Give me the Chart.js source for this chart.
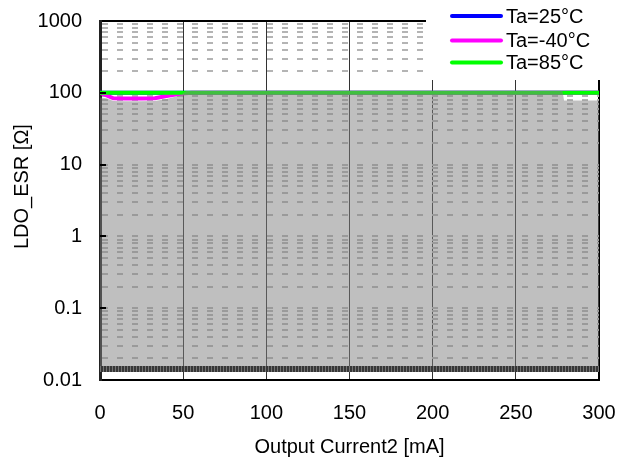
<!DOCTYPE html>
<html>
<head>
<meta charset="utf-8">
<script src="https://cdn.jsdelivr.net/npm/chart.js@4/dist/chart.umd.min.js"></script>
<style>
  html, body { margin: 0; padding: 0; background: #fff; }
  #wrap { width: 618px; height: 463px; position: relative; }
</style>
</head>
<body>
<div id="wrap"><canvas id="c" width="618" height="463"></canvas></div>
<script>
// ---------- data ----------
const seriesLabels = ['Ta=25°C', 'Ta=-40°C', 'Ta=85°C'];

const ta25X = [0, 50, 100, 150, 200, 250, 300];
const ta25Y = [100, 100, 100, 100, 100, 100, 100];

const taM40X = [0, 4, 8, 15, 25, 33, 40, 48, 55, 100, 150, 200, 250, 300];
const taM40Y = [100, 92, 84, 83, 83, 84, 90, 97, 100, 100, 100, 100, 100, 100];

const ta85X = [0, 50, 100, 150, 200, 250, 300];
const ta85Y = [100, 100, 100, 100, 100, 100, 100];

// shaded region (upper edge) and the dark base band
const shadeX = [0, 4, 8, 15, 25, 33, 40, 48, 52, 278, 279, 300];
const shadeY = [86, 84, 77, 76, 76, 77, 82, 92, 106, 106, 78, 78];
const bandX = [0, 300];
const bandY = [0.0142, 0.0142];
const bandLevel = 0.0142;

const xTickValues = [0, 50, 100, 150, 200, 250, 300];
const yDecades = [0.01, 0.1, 1, 10, 100, 1000];
const yTickLabels = ['0.01', '0.1', '1', '10', '100', '1000'];

// ---------- helpers ----------
const pts = (xs, ys) => xs.map((x, i) => ({ x: x, y: ys[i] }));
const FONT = '"Liberation Sans", Arial, sans-serif';

const legendPlugin = {
  id: 'customLegend',
  afterDraw(chart) {
    const ctx = chart.ctx;
    ctx.save();
    ctx.fillStyle = '#fff';
    ctx.fillRect(426, 0, 192, 80);
    const ys = [16, 40.5, 62.5];
    seriesLabels.forEach((lab, i) => {
      const d = chart.data.datasets.find(ds => ds.label === lab);
      ctx.strokeStyle = d.borderColor;
      ctx.lineWidth = 4;
      ctx.lineCap = 'round';
      ctx.beginPath();
      ctx.moveTo(452, ys[i]);
      ctx.lineTo(501, ys[i]);
      ctx.stroke();
      ctx.fillStyle = '#000';
      ctx.font = '20px ' + FONT;
      ctx.textBaseline = 'middle';
      ctx.textAlign = 'left';
      ctx.fillText(lab, 506, ys[i] + 1);
    });
    ctx.restore();
  }
};

const tickMarkPlugin = {
  id: 'innerTicks',
  afterDatasetsDraw(chart) {
    const ctx = chart.ctx;
    const ys = chart.scales.y;
    const left = chart.chartArea.left;
    ctx.save();
    ctx.strokeStyle = '#000';
    ctx.lineWidth = 2;
    yDecades.forEach(v => {
      const p = Math.round(ys.getPixelForValue(v));
      if (v === 1000 || v === 0.01) return;
      ctx.beginPath();
      ctx.moveTo(left, p);
      ctx.lineTo(left + 6, p);
      ctx.stroke();
    });
    ctx.restore();
  }
};

new Chart(document.getElementById('c'), {
  type: 'line',
  data: {
    datasets: [
      {
        label: 'bandHatch',
        data: pts(bandX, bandY),
        borderColor: 'rgb(115,115,115)',
        borderWidth: 6,
        borderDash: [1, 2],
        pointRadius: 0,
        fill: false
      },
      {
        label: 'band',
        data: pts(bandX, bandY),
        borderColor: 'rgb(55,55,55)',
        borderWidth: 6,
        pointRadius: 0,
        fill: false
      },
      {
        label: 'shade',
        data: pts(shadeX, shadeY),
        borderWidth: 0,
        borderColor: 'rgba(0,0,0,0)',
        backgroundColor: 'rgba(128,128,128,0.5)',
        pointRadius: 0,
        fill: { value: bandLevel }
      },
      {
        label: seriesLabels[2],
        data: pts(ta85X, ta85Y),
        borderColor: '#00ff00',
        borderWidth: 4,
        pointRadius: 0,
        fill: false
      },
      {
        label: seriesLabels[1],
        data: pts(taM40X, taM40Y),
        borderColor: '#ff00ff',
        borderWidth: 4,
        pointRadius: 0,
        fill: false
      },
      {
        label: seriesLabels[0],
        data: pts(ta25X, ta25Y),
        borderColor: '#0000ff',
        borderWidth: 4,
        pointRadius: 0,
        fill: false
      }
    ]
  },
  options: {
    responsive: false,
    animation: false,
    layout: { padding: 0 },
    plugins: { legend: { display: false }, tooltip: { enabled: false } },
    scales: {
      x: {
        type: 'linear',
        min: 0, max: 300,
        afterBuildTicks: s => { s.ticks = xTickValues.map(v => ({ value: v })); },
        afterFit: s => { s.height = 83; s.paddingLeft = 0; s.paddingRight = 19; },
        ticks: { color: '#000', font: { family: FONT, size: 20 }, padding: 21, maxRotation: 0, autoSkip: false },
        grid: {
          drawTicks: false,
          color: c => (c.tick && c.tick.value === 300) ? '#000' : '#333',
          lineWidth: c => (c.tick && c.tick.value === 300) ? 2 : 1
        },
        border: { color: '#000', width: 2 },
        title: { display: true, text: 'Output Current2 [mA]', color: '#000', font: { family: FONT, size: 20 }, padding: { top: 0, bottom: 4 } }
      },
      y: {
        type: 'logarithmic',
        min: 0.01, max: 1000,
        afterBuildTicks: s => {
          const t = [];
          for (let e = -2; e <= 2; e++) {
            for (let k = 1; k <= 9; k++) t.push({ value: parseFloat((k * Math.pow(10, e)).toPrecision(6)) });
          }
          t.push({ value: 1000 });
          s.ticks = t;
        },
        afterFit: s => { s.width = 100; s.paddingTop = 21; s.paddingBottom = 0; },
        ticks: {
          color: '#000', font: { family: FONT, size: 20 }, padding: 18, autoSkip: false,
          callback: v => {
            const i = yDecades.findIndex(d => Math.abs(d - v) < d * 1e-6);
            return i >= 0 ? yTickLabels[i] : '';
          }
        },
        grid: {
          drawTicks: false,
          color: c => (c.tick && c.tick.value === 1000) ? '#000' : '#b4b4b4',
          lineWidth: 2
        },
        border: {
          color: '#222', width: 3,
          dash: c => (c.tick && c.tick.value !== 1000) ? [6, 9] : []
        },
        title: { display: true, text: '     LDO_ESR [Ω]', color: '#000', font: { family: FONT, size: 20 }, padding: { top: 10, bottom: 0 } }
      }
    }
  },
  plugins: [tickMarkPlugin, legendPlugin]
});
</script>
</body>
</html>
